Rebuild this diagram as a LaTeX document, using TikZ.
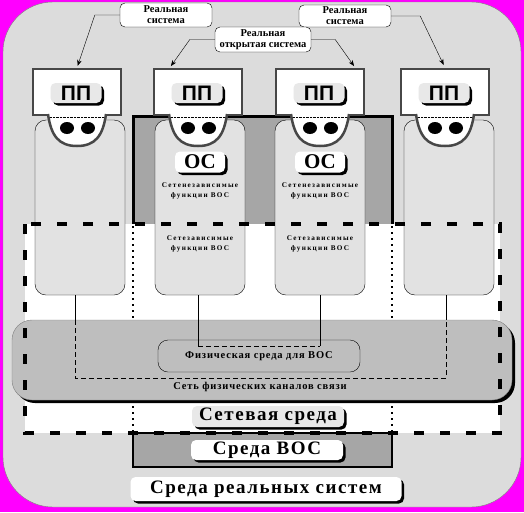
\documentclass[tikz,border=0pt]{standalone}
\usepackage{fontspec}
\setmainfont{Liberation Serif}
\newfontfamily\ppfont{Liberation Sans}
\newfontfamily\lsfont[LetterSpace=8]{Liberation Serif}
\newfontfamily\tinyfont[LetterSpace=18]{Liberation Serif}
\usetikzlibrary{arrows.meta,shadows,calc}
\definecolor{mag}{HTML}{FF00FF}
\definecolor{bgl}{HTML}{DCDCDC}
\definecolor{colf}{HTML}{E2E2E2}
\definecolor{dkg}{HTML}{A6A6A6}
\definecolor{netg}{HTML}{BEBEBE}
\definecolor{edge}{HTML}{474747}
\definecolor{btng}{HTML}{E8E8E8}
\tikzset{
  lab/.style={draw=black, fill=white, rounded corners=5pt, inner sep=0pt, align=center,
    font=\bfseries\fontsize{10.5}{11}\selectfont},
  arr/.style={-{Stealth[length=6pt,width=4.5pt]}, thin},
  ppbox/.style={draw=edge, fill=white, line width=2.5pt, minimum width=88pt, minimum height=46pt, inner sep=0pt},
  ppbtn/.style={fill=btng, rounded corners=5pt, minimum width=51pt, minimum height=20pt, inner sep=0pt,
    drop shadow={shadow xshift=2.5pt, shadow yshift=-2.5pt, fill=black, opacity=1},
    font=\ppfont\bfseries\fontsize{21}{21}\selectfont},
  colbox/.style={draw=black, fill=colf, rounded corners=11pt, minimum width=90pt, minimum height=175pt, inner sep=0pt},
  osbtn/.style={fill=white, rounded corners=5pt, minimum width=50pt, minimum height=21pt, inner sep=0pt,
    drop shadow={shadow xshift=2.5pt, shadow yshift=-2.5pt, fill=black, opacity=1},
    font=\bfseries\fontsize{21}{21}\selectfont},
  tiny/.style={align=center, inner sep=0pt, font=\tinyfont\bfseries\fontsize{7.2}{10}\selectfont},
  bigbtn/.style={rounded corners=5pt, inner sep=0pt,
    drop shadow={shadow xshift=2.5pt, shadow yshift=-2.5pt, fill=black, opacity=1},
    font=\lsfont\bfseries\fontsize{19}{19}\selectfont},
  mid/.style={inner sep=0pt, font=\lsfont\bfseries\fontsize{10.5}{11}\selectfont},
  thindash/.style={thin, dash pattern=on 5pt off 3pt},
  dotv/.style={line width=1.5pt, dash pattern=on 2pt off 4pt},
  bigdash/.style={line width=4pt, dash pattern=on 10pt off 16pt}
}
\begin{document}
\begin{tikzpicture}[x=1pt,y=-1pt]
\useasboundingbox (0,0) rectangle (524,512);
\fill[mag] (0,0) rectangle (524,512);
\filldraw[fill=bgl, draw=gray, rounded corners=50pt] (3,2) rectangle (521,507);

% OSI environment, upper part
\fill[dkg] (133,116) rectangle (392,224);
\draw[line width=3pt] (133,224) -- (133,116) -- (392,116) -- (392,224);

% network environment area
\fill[white] (25,224) rectangle (500,433);

% OSI environment, lower part
\filldraw[fill=dkg, line width=2pt] (133,433) rectangle (392,467);

% dotted verticals
\draw[dotv] (133,226) -- (133,433);
\draw[dotv] (392,226) -- (392,433);

% network of physical channels
\fill[black, rounded corners=20pt] (15,323) rectangle (515,403);
\filldraw[fill=netg, draw=gray, rounded corners=20pt] (12,320) rectangle (512,400);

% columns
\node[colbox] (col1) at (80,207.5) {};
\node[colbox] (col2) at (200,207.5) {};
\node[colbox] (col3) at (320,207.5) {};
\node[colbox] (col4) at (449,207.5) {};

% physical medium
\node[draw=black, fill=netg, rounded corners=10pt, minimum width=202pt, minimum height=32pt, inner sep=0pt, mid] (phys) at (259,356) {Физическая среда для ВОС};
\node[mid] (netlab) at (260,387) {Сеть физических каналов связи};

% links
\coordinate (a1) at (75,320); \coordinate (a1b) at (75,378);
\coordinate (a4) at (446,320); \coordinate (a4b) at (446,378);
\coordinate (b2) at (198,346); \coordinate (b3) at (320,346);
\draw (col1.south -| a1) -- (a1);
\draw (col4.south -| a4) -- (a4);
\draw[thindash] (a1) -- (a1b) -- (a4b) -- (a4);
\draw (col2.south -| b2) -- (b2);
\draw (col3.south -| b3) -- (b3);
\draw[thindash] (b2) -- (b3);

% texts inside columns
\node[osbtn] (os2) at (200,162) {ОС};
\node[osbtn] (os3) at (320,162) {ОС};
\node[tiny] (ni2) at (200,191) {Сетенезависимые\\функции ВОС};
\node[tiny] (ni3) at (320,191) {Сетенезависимые\\функции ВОС};
\node[tiny] (nd2) at (200,244) {Сетезависимые\\функции ВОС};
\node[tiny] (nd3) at (320,244) {Сетезависимые\\функции ВОС};

% big dashed border
\draw[bigdash] (25,224) rectangle (500,433);

% application process boxes
\foreach \n/\cx in {1/77,2/198,3/320,4/445} {
  \node[ppbox] (pp\n) at (\cx,92) {};
  \fill[white] (\cx-29,114) .. controls (\cx-26,136) and (\cx-18,146) .. (\cx,146)
        .. controls (\cx+18,146) and (\cx+26,136) .. (\cx+29,114) -- cycle;
  \draw[edge, line width=2.5pt] (\cx-29,114) .. controls (\cx-26,136) and (\cx-18,146) .. (\cx,146)
        .. controls (\cx+18,146) and (\cx+26,136) .. (\cx+29,114);
  \draw[densely dotted, thin] (\cx-27,117.5) -- (\cx+27,117.5);
  \fill (\cx-10,128) ellipse [x radius=7pt, y radius=6pt];
  \fill (\cx+11,128) ellipse [x radius=7pt, y radius=6pt];
  \node[ppbtn] (ppb\n) at (\cx-1,93) {ПП};
}

% labels
\node[lab, minimum width=92pt, minimum height=24pt] (lab1) at (166,15) {Реальная\\система};
\node[lab, minimum width=92pt, minimum height=22pt] (lab3) at (345,16) {Реальная\\система};
\node[lab, minimum width=96pt, minimum height=25pt] (lab2) at (263,39.5) {Реальная\\открытая система};

\draw[arr, shorten >=2pt] (lab1.west) -- ++(-25,0) -- (pp1.north);
\draw[arr, shorten >=2pt] (lab2.west) -- ++(-25,0) -- ($(pp2.north west)+(17,0)$);
\draw[arr, shorten >=2pt] (lab2.east) -- ++(24,0) -- ($(pp3.north east)+(-10,0)$);
\draw[arr, shorten >=3pt] (lab3.east) -- ++(29,0) -- (pp4.north);

% environment buttons
\node[bigbtn, fill=btng, minimum width=152pt, minimum height=21pt] (netenv) at (268,416.5) {Сетевая среда};
\node[bigbtn, fill=white, minimum width=152pt, minimum height=20pt] (osienv) at (267,450) {Среда ВОС};
\node[bigbtn, fill=white, minimum width=271pt, minimum height=24pt] (realenv) at (266,489) {Среда реальных систем};
\end{tikzpicture}
\end{document}
